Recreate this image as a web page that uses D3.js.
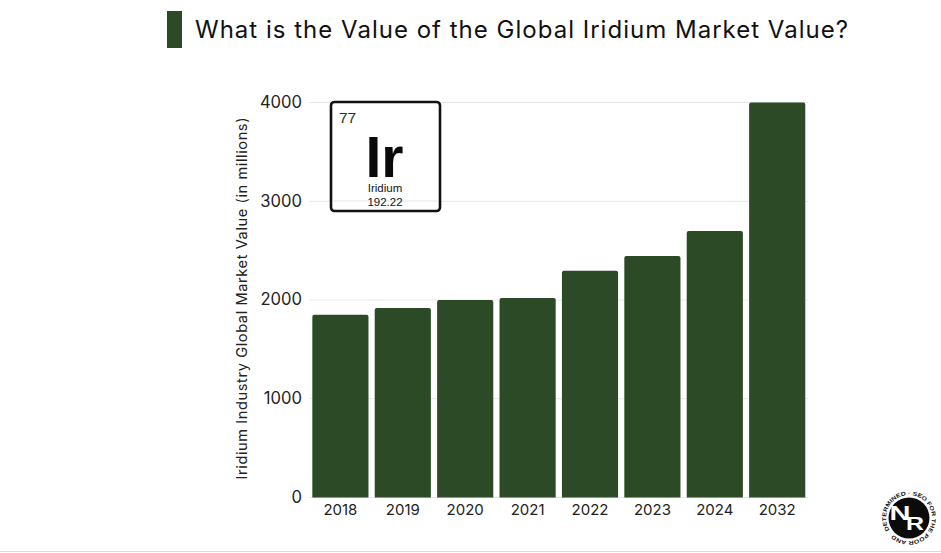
<!DOCTYPE html>
<html><head><meta charset="utf-8">
<script src="https://cdn.jsdelivr.net/npm/d3@7"></script>
<style>
html,body{margin:0;padding:0;background:#fff;overflow:hidden}
svg{display:block}
text{font-family:"Inter","Noto Sans",sans-serif;fill:#111}
</style></head><body>
<script>
const categories = ["2018","2019","2020","2021","2022","2023","2024","2032"];
const marketValues = [1850,1920,2000,2020,2295,2445,2700,4000];
const yTicks = [0,1000,2000,3000,4000];
const titleText = "What is the Value of the Global Iridium Market Value?";
const yLabel = "Iridium Industry Global Market Value (in millions)";
const logoText = "DETERMINED · SEO FOR THE POOR AND";
const green = "#2c4a26";

const W=941,H=553;
const svg=d3.select("body").append("svg").attr("width",W).attr("height",H);
svg.append("rect").attr("width",W).attr("height",H).attr("fill","#fff");
svg.append("line").attr("x1",0).attr("x2",W).attr("y1",551.5).attr("y2",551.5).attr("stroke","#d9d9d9").attr("stroke-width",1);

// title
svg.append("rect").attr("x",167).attr("y",11).attr("width",15).attr("height",37).attr("fill",green);
svg.append("text").attr("x",195).attr("y",38).attr("font-size",24).attr("textLength",653).attr("lengthAdjust","spacing").text(titleText);

const x=d3.scaleBand().domain(categories).range([309.2,808.4]).paddingInner(0.1).paddingOuter(0.05);
const y=d3.scaleLinear().domain([0,4000]).range([497.5,102.5]);

const g=svg.append("g");
const gy=g.append("g").attr("transform","translate(309,0)")
  .call(d3.axisLeft(y).tickValues(yTicks).tickSize(0).tickPadding(8).tickFormat(d3.format("d")));
gy.select(".domain").remove();
gy.selectAll("text").attr("font-size",16.6).attr("dy","0.3em").attr("x",-7).style("font-family","Inter,sans-serif").style("fill","#222");
g.append("g").selectAll("line").data(yTicks).join("line")
  .attr("x1",309).attr("x2",808).attr("y1",d=>y(d)).attr("y2",d=>y(d))
  .attr("stroke","#e6e6ea").attr("stroke-width",1);

const r=2;
g.append("g").selectAll("path").data(categories).join("path")
  .attr("fill",green)
  .attr("d",(c,i)=>{
    const x0=x(c),x1=x0+x.bandwidth(),yt=y(marketValues[i]),yb=y(0);
    return `M${x0},${yb}V${yt+r}Q${x0},${yt} ${x0+r},${yt}H${x1-r}Q${x1},${yt} ${x1},${yt+r}V${yb}Z`;
  });

const gx=g.append("g").attr("transform","translate(0,497.5)")
  .call(d3.axisBottom(x).tickSize(0).tickPadding(7));
gx.select(".domain").remove();
gx.selectAll("text").attr("font-size",15).style("font-family","Inter,sans-serif").style("fill","#222");

svg.append("text").attr("transform","translate(247,298.5) rotate(-90)").attr("text-anchor","middle")
  .attr("font-size",14.6).attr("textLength",362).attr("lengthAdjust","spacing").style("fill","#222").text(yLabel);

// element tile
const tile=svg.append("g").attr("transform","translate(331,102)");
tile.append("rect").attr("width",109).attr("height",109).attr("rx",3.5).attr("fill","#fff").attr("stroke","#111").attr("stroke-width",2.6);
tile.append("line").attr("x1",2).attr("x2",107).attr("y1",99).attr("y2",99).attr("stroke","#e6e6ea");
tile.append("text").attr("x",8).attr("y",21).attr("font-size",15.5).style("fill","#24361f").style("font-family","'Liberation Sans'").text("77");
tile.append("text").attr("x",53.5).attr("y",75).attr("text-anchor","middle").attr("font-size",57).attr("font-weight",700).style("font-family","'Liberation Sans'").style("fill","#0a0a0a").text("Ir");
tile.append("text").attr("x",54).attr("y",89.5).attr("text-anchor","middle").attr("font-size",11.5).style("font-family","'Liberation Sans'").text("Iridium");
tile.append("text").attr("x",54).attr("y",103.5).attr("text-anchor","middle").attr("font-size",11.5).style("font-family","'Liberation Sans'").text("192.22");

// logo
const logo=svg.append("g").attr("transform","translate(909,518)");
logo.append("circle").attr("r",20.5).attr("fill","#0b0b0b");
const defs=svg.append("defs");
defs.append("path").attr("id","ring")
  .attr("d","M-19.5,12.2 A23,23 0 1 1 19.5,12.2 A23,23 0 0 1 -19.5,12.2");
logo.append("text").attr("font-size",5.6).attr("font-weight",700).style("font-family","'Liberation Sans'").style("fill","#111")
  .append("textPath").attr("href","#ring").attr("textLength",138).attr("lengthAdjust","spacingAndGlyphs").text(logoText);
logo.append("text").attr("x",-9).attr("y",2).attr("text-anchor","middle").attr("font-size",21).attr("font-weight",700)
  .attr("textLength",21).attr("lengthAdjust","spacingAndGlyphs").style("font-family","'Liberation Sans'").style("fill","#fff").text("N");
logo.append("text").attr("x",6).attr("y",12).attr("text-anchor","middle").attr("font-size",19).attr("font-weight",700)
  .attr("textLength",18).attr("lengthAdjust","spacingAndGlyphs").style("font-family","'Liberation Sans'").style("fill","#fff").text("R");
</script>
</body></html>
